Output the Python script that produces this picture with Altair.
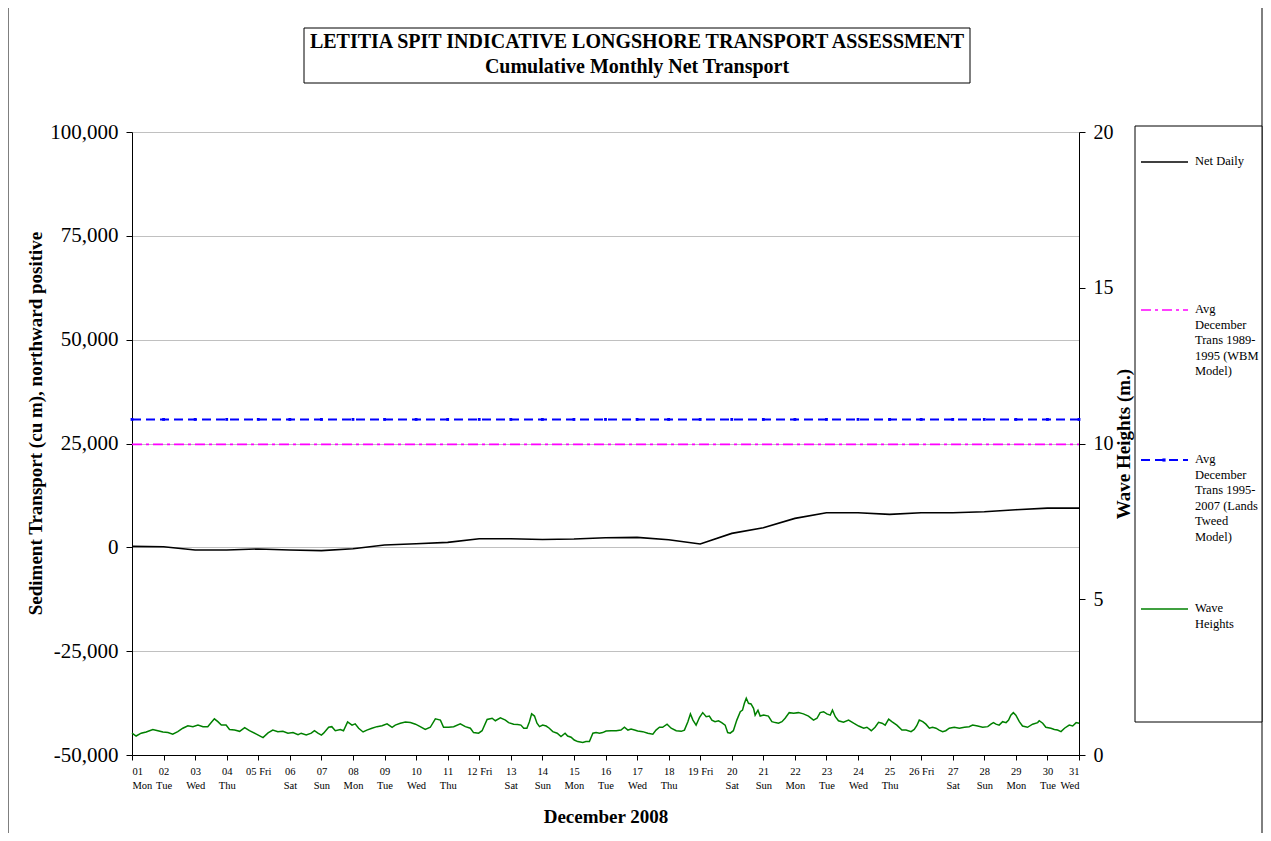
import altair as alt
import pandas as pd

FONT = "Liberation Serif"

# ---------------- data ----------------
days = list(range(1, 32))
net_daily = [240, 150, -650, -650, -400, -650, -800, -330, 550, 880, 1200, 2070, 2070,
             1900, 1990, 2300, 2400, 1830, 800, 3360, 4730, 6970, 8330, 8330, 7930,
             8330, 8330, 8570, 9050, 9450, 9450]
avg_wbm = 24800
avg_lands_tweed = 30800

wave_day = [1.00, 1.13, 1.29, 1.45, 1.66, 1.82, 1.98, 2.14, 2.29, 2.45, 2.61, 2.77, 2.93,
            3.09, 3.25, 3.40, 3.51, 3.61, 3.72, 3.83, 3.98, 4.09, 4.25, 4.41, 4.57, 4.72,
            4.94, 5.15, 5.31, 5.46, 5.62, 5.78, 5.94, 6.10, 6.26, 6.36, 6.52, 6.68, 6.78,
            6.89, 7.00,
            7.07, 7.23, 7.33, 7.44, 7.60, 7.70, 7.83, 7.97, 8.07, 8.18, 8.32, 8.44, 8.60,
            8.76, 8.92, 9.08, 9.24, 9.34, 9.50, 9.66, 9.82, 9.98, 10.13, 10.29, 10.45,
            10.61, 10.77, 10.87, 11.03, 11.19, 11.40, 11.56, 11.72, 11.82, 11.98, 12.09,
            12.25, 12.41, 12.51, 12.67, 12.83, 12.93, 13.09,
            13.22, 13.32, 13.41, 13.51, 13.59, 13.66, 13.75, 13.83, 13.91, 14.01, 14.12,
            14.22, 14.33, 14.47, 14.59, 14.72, 14.80, 14.91, 15.01, 15.12, 15.28, 15.38,
            15.49, 15.60, 15.70, 15.81, 15.91, 16.02, 16.18, 16.34, 16.49, 16.60, 16.71,
            16.81, 16.92, 17.02, 17.18, 17.34, 17.50, 17.60, 17.71, 17.81, 17.95, 18.08,
            18.24, 18.40, 18.50, 18.61, 18.69, 18.77, 18.87, 18.98, 19.08, 19.19, 19.29,
            19.37, 19.47, 19.58, 19.68, 19.79, 19.87, 19.95, 20.05, 20.16, 20.27, 20.34,
            20.40, 20.46, 20.53, 20.61, 20.69, 20.74, 20.83, 20.90, 21.01, 21.16, 21.27,
            21.38, 21.48, 21.59, 21.69, 21.82, 21.96, 22.11, 22.27, 22.43, 22.59, 22.70,
            22.80, 22.91, 23.01, 23.12, 23.19, 23.28, 23.38, 23.54, 23.70, 23.86, 24.02,
            24.18, 24.28, 24.42, 24.54, 24.65, 24.76, 24.86, 24.97, 25.07, 25.23, 25.39,
            25.52, 25.68, 25.78, 25.86, 25.94, 26.05, 26.15, 26.26, 26.36, 26.47, 26.57,
            26.68, 26.78, 26.89, 27.05, 27.21, 27.37, 27.52, 27.63, 27.79, 27.95, 28.11,
            28.21, 28.29, 28.37, 28.47, 28.58, 28.69, 28.77, 28.84, 28.92, 29.00, 29.11,
            29.21, 29.37, 29.53, 29.69, 29.74, 29.85, 29.95, 30.11, 30.22, 30.32, 30.43,
            30.54, 30.69, 30.80, 30.91, 31.00]
wave_height = [0.70, 0.61, 0.70, 0.74, 0.82, 0.78, 0.74, 0.72, 0.67, 0.75, 0.86, 0.94, 0.91,
               0.96, 0.91, 0.91, 1.04, 1.16, 1.07, 0.96, 0.96, 0.82, 0.80, 0.76, 0.88, 0.78,
               0.67, 0.56, 0.71, 0.80, 0.75, 0.76, 0.70, 0.72, 0.65, 0.70, 0.64, 0.70, 0.78,
               0.70, 0.64,
               0.70, 0.89, 0.91, 0.78, 0.82, 0.78, 1.06, 0.96, 1.00, 0.86, 0.74, 0.80, 0.86,
               0.91, 0.94, 1.00, 0.89, 0.96, 1.02, 1.06, 1.04, 0.99, 0.91, 0.82, 0.89,
               1.16, 1.12, 0.89, 0.89, 0.91, 1.00, 0.91, 0.86, 0.72, 0.70, 0.78,
               1.14, 1.18, 1.10, 1.19, 1.12, 1.04, 0.99,
               0.98, 0.96, 0.86, 0.86, 1.07, 1.32, 1.25, 1.02, 0.91, 0.96, 0.93,
               0.86, 0.75, 0.70, 0.59, 0.70, 0.61, 0.57, 0.48, 0.43, 0.40, 0.43,
               0.43, 0.70, 0.72, 0.70, 0.72, 0.77, 0.78, 0.78, 0.80, 0.89, 0.80,
               0.83, 0.80, 0.77, 0.75, 0.70, 0.67, 0.80, 0.89, 0.89, 0.99, 0.86,
               0.78, 0.76, 0.80, 1.07, 1.32, 1.12, 0.96, 1.21, 1.36, 1.23, 1.25,
               1.12, 1.07, 1.10, 1.04, 0.96, 0.72, 0.70, 0.78, 1.12, 1.39, 1.44,
               1.66, 1.82, 1.66, 1.64, 1.50, 1.28, 1.44, 1.25, 1.28, 1.25, 1.07,
               1.04, 1.02, 1.07, 1.18, 1.36, 1.34, 1.36, 1.32, 1.25, 1.12, 1.18,
               1.36, 1.39, 1.32, 1.28, 1.44, 1.23, 1.10, 1.05, 1.12, 1.02, 0.93,
               0.86, 0.89, 0.78, 0.89, 1.05, 1.02, 0.96, 1.15, 1.07, 0.96, 0.80,
               0.80, 0.75, 0.82, 0.94, 1.12, 1.07, 0.99, 0.86, 0.89, 0.86, 0.80,
               0.75, 0.78, 0.86, 0.89, 0.86, 0.89, 0.91, 0.96, 0.93, 0.89, 0.91,
               0.99, 1.04, 0.99, 0.96, 1.07, 1.04, 1.12, 1.28, 1.36, 1.28, 1.07,
               0.93, 0.89, 0.99, 1.04, 1.10, 1.02, 0.89, 0.86, 0.82, 0.80, 0.75,
               0.86, 0.96, 0.93, 1.04, 1.02]

x_top_labels = ["01", "02", "03", "04", "05 Fri", "06", "07", "08", "09", "10", "11",
                "12 Fri", "13", "14", "15", "16", "17", "18", "19 Fri", "20", "21", "22",
                "23", "24", "25", "26 Fri", "27", "28", "29", "30", "31"]
x_bottom_labels = ["Mon", "Tue", "Wed", "Thu", "", "Sat", "Sun", "Mon", "Tue", "Wed", "Thu",
                   "", "Sat", "Sun", "Mon", "Tue", "Wed", "Thu", "", "Sat", "Sun", "Mon",
                   "Tue", "Wed", "Thu", "", "Sat", "Sun", "Mon", "Tue", "Wed"]
left_ticks = [-50000, -25000, 0, 25000, 50000, 75000, 100000]
right_ticks = [0, 5, 10, 15, 20]

# ---------------- frames ----------------
net_df = pd.DataFrame({"day": days, "value": net_daily})
wbm_df = pd.DataFrame({"day": days, "value": [avg_wbm] * len(days)})
lt_df = pd.DataFrame({"day": days, "value": [avg_lands_tweed] * len(days)})
wave_df = pd.DataFrame({"day": wave_day, "h": wave_height})
one = pd.DataFrame({"a": [0]})

label_js = "[" + ",".join("['%s','%s']" % (t, b) for t, b in zip(x_top_labels, x_bottom_labels)) + "][round(datum.value)-1]"

x_enc = alt.X(
    "day:Q",
    scale=alt.Scale(domain=[1, 31], nice=False, zero=False),
    axis=alt.Axis(
        values=days, labelExpr=label_js, title="December 2008",
        labelFont=FONT, labelFontSize=10.5, labelLineHeight=14, labelColor="black",
        labelPadding=6, labelBaseline="top", labelAngle=0, labelOverlap=False,
        tickColor="black", tickSize=5, domainColor="black", grid=False,
        titleFont=FONT, titleFontSize=19, titleFontWeight="bold", titleColor="black",
        titlePadding=17,
    ),
)

y_left = alt.Y(
    "value:Q",
    scale=alt.Scale(domain=[-50000, 100000], nice=False),
    axis=alt.Axis(
        values=left_ticks, labelExpr="replace(format(datum.value, ','), '\u2212', '-')",
        title="Sediment Transport (cu m), northward positive",
        labelFont=FONT, labelFontSize=21, labelColor="black", labelPadding=8,
        tickColor="black", tickSize=6, domainColor="black",
        grid=True, gridColor="#c0c0c0", gridWidth=1,
        titleFont=FONT, titleFontSize=19, titleFontWeight="bold", titleColor="black",
        titlePadding=4, titleY=291,
    ),
)

net_line = alt.Chart(net_df).mark_line(color="black", strokeWidth=1.6).encode(x=x_enc, y=y_left)
wbm_line = alt.Chart(wbm_df).mark_line(color="#FF00FF", strokeWidth=1.6,
                                       strokeDash=[10, 4, 3, 4]).encode(x=x_enc, y=y_left)
lt_line = alt.Chart(lt_df).mark_line(color="#0000FF", strokeWidth=2,
                                     strokeDash=[9, 5]).encode(x=x_enc, y=y_left)
lt_pts = alt.Chart(lt_df).mark_point(shape="square", filled=True, color="#0000FF",
                                     size=8, opacity=1).encode(x=x_enc, y=y_left)
left = alt.layer(net_line, wbm_line, lt_line, lt_pts)

wave_line = alt.Chart(wave_df).mark_line(color="#008000", strokeWidth=1.5).encode(
    x=x_enc,
    y=alt.Y(
        "h:Q",
        scale=alt.Scale(domain=[0, 20], nice=False),
        axis=alt.Axis(
            orient="right", values=right_ticks, title="Wave Heights (m.)",
            labelFont=FONT, labelFontSize=20, labelColor="black", labelPadding=8,
            tickColor="black", tickSize=6, domainColor="black", grid=False,
            titleFont=FONT, titleFontSize=19, titleFontWeight="bold", titleColor="black",
            titleAngle=270, titleBaseline="top", titlePadding=1,
        ),
    ),
)

# ---------------- decorations: title box, legend, frame ----------------
deco = []
# outer frame verticals
deco.append(alt.Chart(one).mark_rule(color="black", strokeWidth=1).encode(
    x=alt.value(-124), y=alt.value(-124), y2=alt.value(701)))
deco.append(alt.Chart(one).mark_rule(color="black", strokeWidth=1).encode(
    x=alt.value(1130), y=alt.value(-124), y2=alt.value(701)))
# title box
deco.append(alt.Chart(one).mark_rect(fill="white", stroke="black", strokeWidth=1).encode(
    x=alt.value(172), x2=alt.value(838), y=alt.value(-104), y2=alt.value(-49)))
deco.append(alt.Chart(one).mark_text(font=FONT, fontSize=20, fontWeight="bold", color="black",
                                     align="center", baseline="middle").encode(
    x=alt.value(505), y=alt.value(-90),
    text=alt.value("LETITIA SPIT INDICATIVE LONGSHORE TRANSPORT ASSESSMENT")))
deco.append(alt.Chart(one).mark_text(font=FONT, fontSize=20, fontWeight="bold", color="black",
                                     align="center", baseline="middle").encode(
    x=alt.value(505), y=alt.value(-65), text=alt.value("Cumulative Monthly Net Transport")))
# legend box
deco.append(alt.Chart(one).mark_rect(fill="white", stroke="black", strokeWidth=1).encode(
    x=alt.value(1003), x2=alt.value(1130), y=alt.value(-6), y2=alt.value(590)))

legend_items = [
    (["Net Daily"], 30, "black", None, 1.6),
    (["Avg", "December", "Trans 1989-", "1995 (WBM", "Model)"], 178, "#FF00FF", [10, 4, 3, 4], 1.6),
    (["Avg", "December", "Trans 1995-", "2007 (Lands", "Tweed", "Model)"], 328, "#0000FF", [9, 5], 2),
    (["Wave", "Heights"], 477, "#008000", None, 1.5),
]
for lines, ly, col, dash, sw in legend_items:
    kw = dict(color=col, strokeWidth=sw)
    if dash:
        kw["strokeDash"] = dash
    deco.append(alt.Chart(one).mark_rule(**kw).encode(
        x=alt.value(1009), x2=alt.value(1056), y=alt.value(ly)))
    deco.append(alt.Chart(one).mark_text(font=FONT, fontSize=12.5, color="black", align="left",
                                         baseline="top", lineHeight=15.5).encode(
        x=alt.value(1063), y=alt.value(ly - 7), text=alt.value(lines)))
deco.append(alt.Chart(one).mark_point(shape="square", filled=True, color="#0000FF",
                                      size=10, opacity=1).encode(
    x=alt.value(1032), y=alt.value(328)))

chart = alt.layer(left, wave_line, *deco).resolve_scale(y="independent").properties(
    width=947, height=623,
    padding={"left": 124, "top": 124, "right": 184, "bottom": 78},
    autosize=alt.AutoSizeParams(type="none"),
    background="white",
).configure_view(stroke=None)

chart.save("out.html", embed_options={"renderer": "svg", "actions": False})
